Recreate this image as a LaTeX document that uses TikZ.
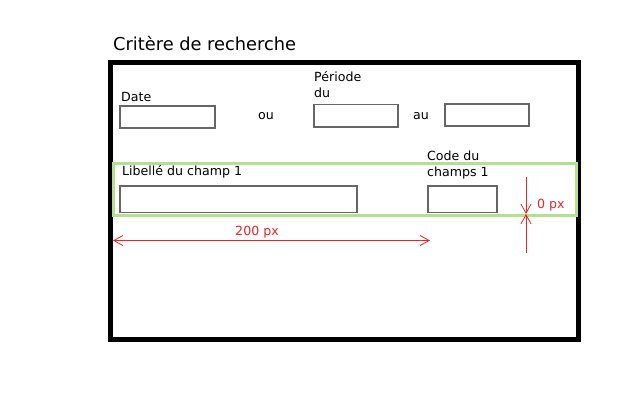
\documentclass[tikz,border=0pt]{standalone}
\usepackage{fontspec}
\setmainfont{DejaVu Sans}
\usetikzlibrary{arrows.meta}
\definecolor{boxgray}{HTML}{666666}
\definecolor{frgreen}{HTML}{B5E08F}
\definecolor{dimred}{HTML}{E8262A}
\tikzset{
  lbl/.style={anchor=base west, inner sep=0pt, font=\fontsize{12.6}{14}\selectfont},
  redlbl/.style={lbl, text=dimred},
  field/.style={draw=boxgray, line width=1.2pt},
  dimline/.style={draw=dimred, line width=0.8pt},
  barb/.tip={Straight Barb[length=9pt,width=10pt,line width=0.8pt]}
}
\begin{document}
\begin{tikzpicture}[x=1pt,y=-1pt]
\useasboundingbox (0,0) rectangle (640,400);
\fill[white] (0,0) rectangle (640,400);
% title
\node[anchor=base west, inner sep=0pt, font=\fontsize{17.8}{20}\selectfont] (title) at (113,50) {Critère de recherche};
% outer frame
\draw[line width=5.5pt] (110.5,62.5) rectangle (578.5,339.5);
% row 1
\node[lbl] (ldate) at (121,101) {Date};
\draw[field] (120,106) rectangle (215,128);
\node[lbl] (lou) at (258,119) {ou};
\node[lbl] (lper) at (314,81) {Période};
\node[lbl] (ldu) at (314,97) {du};
\draw[field] (314,104.5) rectangle (398,127);
\node[lbl] (lau) at (413,119) {au};
\draw[field] (445,104) rectangle (529,126);
% green highlighted row
\draw[frgreen, line width=3pt] (113,163) rectangle (576,215);
\node[lbl] (llib) at (122,175) {Libellé du champ 1};
\draw[field] (120,186) rectangle (357,212.5);
\node[lbl] (lcode) at (427,160) {Code du};
\node[lbl] (lchamps) at (427,176.7) {champs 1};
\draw[field] (428,186) rectangle (497,212.5);
% dimension 200 px
\coordinate (h1) at (113,240.5);
\coordinate (h2) at (430,240.5);
\draw[dimline, barb-barb] (h1) -- (h2);
\node[redlbl, anchor=base] (l200) at (257,235) {200 px};
% dimension 0 px
\coordinate (v1) at (526,177);
\coordinate (v2) at (526,214);
\coordinate (v3) at (526,253);
\draw[dimline, -barb] (v1) -- (v2);
\draw[dimline, -barb] (v3) -- (v2);
\node[redlbl] (l0) at (537,208) {0 px};
\end{tikzpicture}
\end{document}
